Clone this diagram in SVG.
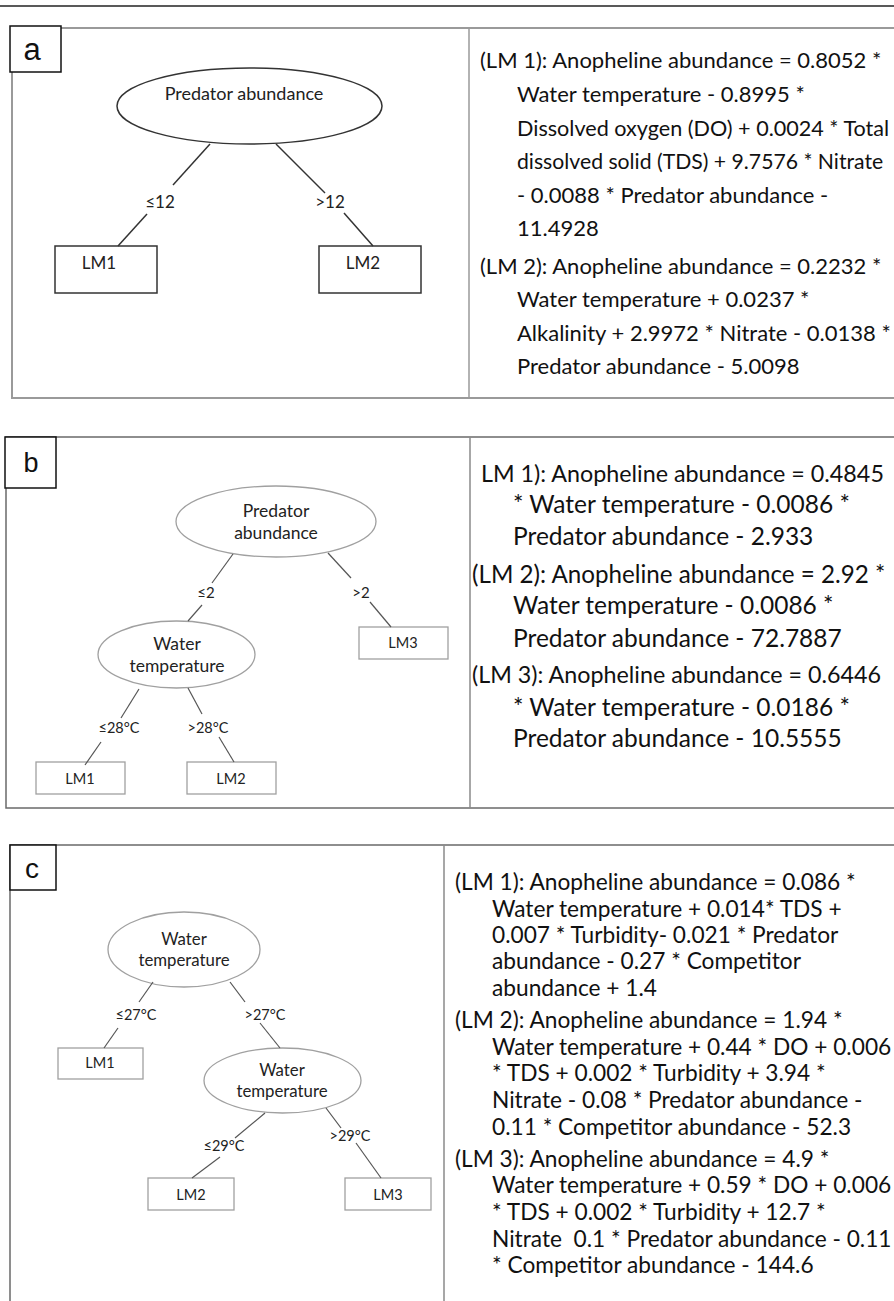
<svg xmlns="http://www.w3.org/2000/svg" width="894" height="1301" viewBox="0 0 894 1301">
<style>
  .bg{fill:#ffffff}
  .panel{fill:none;stroke:#9a9a9a;stroke-width:2}
  .panelb{fill:none;stroke:#6a6a6a;stroke-width:1.5}
  .tag{fill:#ffffff;stroke:#111;stroke-width:1.5}
  .tagt{font-family:"Liberation Sans",Arial,sans-serif;fill:#111;text-anchor:middle}
  .nodeA{fill:#fff;stroke:#333;stroke-width:1.5}
  .nodeB{fill:#fff;stroke:#a0a0a0;stroke-width:1.3}
  .edgeA{stroke:#333;stroke-width:1.5;fill:none}
  .edgeB{stroke:#555;stroke-width:1.2;fill:none}
  .tt{font-family:Lato,"Open Sans",sans-serif;fill:#222;text-anchor:middle}
  .eq{font-family:Lato,"Open Sans",sans-serif;fill:#111}
</style>
<rect class="bg" x="0" y="0" width="894" height="1301"/>
<line x1="0" y1="6" x2="894" y2="6" stroke="#222" stroke-width="1.5"/>

<!-- Panel a -->
<g id="panel-a">
  <rect class="panel" x="12" y="28" width="900" height="370"/>
  <line x1="469" y1="28" x2="469" y2="398" stroke="#9a9a9a" stroke-width="1.5"/>
  <rect class="tag" x="10" y="26" width="51" height="46"/>
  <text class="tagt" x="32" y="60" font-size="31">a</text>
</g>
<g id="a-root">
  <ellipse class="nodeA" cx="249.5" cy="106" rx="132.5" ry="38"/>
  <text class="tt" x="244" y="100" font-size="18">Predator abundance</text>
</g>
<g id="a-lm1">
  <rect class="nodeA" x="55" y="246" width="102" height="47"/>
  <text class="tt" x="99" y="269" font-size="17">LM1</text>
</g>
<g id="a-lm2">
  <rect class="nodeA" x="319" y="246" width="102" height="47"/>
  <text class="tt" x="363" y="269" font-size="17">LM2</text>
</g>
<g id="a-connectors">
  <line class="edgeA" x1="210" y1="144" x2="173" y2="185"/>
  <line class="edgeA" x1="147" y1="214" x2="118" y2="246"/>
  <line class="edgeA" x1="276" y1="144" x2="325" y2="193"/>
  <line class="edgeA" x1="344" y1="213" x2="373" y2="246"/>
  <text class="tt" x="160" y="208" font-size="17">≤12</text>
  <text class="tt" x="330" y="208" font-size="17">&gt;12</text>
</g>
<g id="a-equations" class="eq" font-size="22">
  <text x="480" y="68">(LM 1): Anopheline abundance = 0.8052 *</text>
  <text x="517" y="102">Water temperature - 0.8995 *</text>
  <text x="517" y="136" font-size="21.6">Dissolved oxygen (DO) + 0.0024 * Total</text>
  <text x="517" y="169" font-size="21.2">dissolved solid (TDS) + 9.7576 * Nitrate</text>
  <text x="517" y="203">- 0.0088 * Predator abundance -</text>
  <text x="517" y="236">11.4928</text>
  <text x="480" y="274">(LM 2): Anopheline abundance = 0.2232 *</text>
  <text x="517" y="307">Water temperature + 0.0237 *</text>
  <text x="517" y="341">Alkalinity + 2.9972 * Nitrate - 0.0138 *</text>
  <text x="517" y="374">Predator abundance - 5.0098</text>
</g>

<!-- Panel b -->
<g id="panel-b">
  <rect class="panelb" x="6" y="437" width="900" height="371"/>
  <line x1="470" y1="437" x2="470" y2="808" stroke="#8a8a8a" stroke-width="1.5"/>
  <rect class="tag" x="5" y="437" width="51" height="51"/>
  <text class="tagt" x="31" y="472" font-size="27">b</text>
</g>
<g id="b-root">
  <ellipse class="nodeB" cx="276" cy="521.5" rx="100" ry="35.5"/>
  <text class="tt" x="276" y="517" font-size="17.5">Predator</text>
  <text class="tt" x="276" y="539" font-size="17.5">abundance</text>
</g>
<g id="b-water">
  <ellipse class="nodeB" cx="176.5" cy="654.5" rx="78.5" ry="33.5"/>
  <text class="tt" x="177" y="650" font-size="17.5">Water</text>
  <text class="tt" x="177" y="672" font-size="17.5">temperature</text>
</g>
<g id="b-lm3">
  <rect class="nodeB" x="359" y="627" width="89" height="32"/>
  <text class="tt" x="403" y="648" font-size="14.5">LM3</text>
</g>
<g id="b-lm1">
  <rect class="nodeB" x="36" y="762" width="89" height="32"/>
  <text class="tt" x="80" y="784" font-size="14.5">LM1</text>
</g>
<g id="b-lm2">
  <rect class="nodeB" x="187" y="762" width="89" height="32"/>
  <text class="tt" x="231" y="784" font-size="14.5">LM2</text>
</g>
<g id="b-connectors">
  <line class="edgeB" x1="233" y1="554" x2="212" y2="583"/>
  <line class="edgeB" x1="202" y1="605" x2="188" y2="621"/>
  <line class="edgeB" x1="328" y1="553" x2="351" y2="578"/>
  <line class="edgeB" x1="370" y1="602" x2="391" y2="627"/>
  <line class="edgeB" x1="139" y1="689" x2="121" y2="718"/>
  <line class="edgeB" x1="101" y1="742" x2="85" y2="765"/>
  <line class="edgeB" x1="188" y1="688" x2="202" y2="714"/>
  <line class="edgeB" x1="219" y1="737" x2="234" y2="762"/>
  <text class="tt" x="206" y="598" font-size="15">≤2</text>
  <text class="tt" x="361" y="598" font-size="15">&gt;2</text>
  <text class="tt" x="119" y="733" font-size="14.5">≤28°C</text>
  <text class="tt" x="208" y="733" font-size="14.5">&gt;28°C</text>
</g>
<g id="b-equations" class="eq" font-size="24.5">
  <text x="481" y="482" font-size="23.3">LM 1): Anopheline abundance = 0.4845</text>
  <text x="513" y="513">* Water temperature - 0.0086 *</text>
  <text x="513" y="545">Predator abundance - 2.933</text>
  <text x="472" y="583" font-size="24.2">(LM 2): Anopheline abundance = 2.92 *</text>
  <text x="513" y="614">Water temperature - 0.0086 *</text>
  <text x="513" y="647">Predator abundance - 72.7887</text>
  <text x="472" y="683" font-size="23.3">(LM 3): Anopheline abundance = 0.6446</text>
  <text x="513" y="716">* Water temperature - 0.0186 *</text>
  <text x="513" y="747">Predator abundance - 10.5555</text>
</g>

<!-- Panel c -->
<g id="panel-c">
  <rect class="panelb" x="10" y="845" width="900" height="470"/>
  <line x1="444" y1="845" x2="444" y2="1301" stroke="#8a8a8a" stroke-width="1.5"/>
  <rect class="tag" x="10" y="845" width="46" height="45"/>
  <text class="tagt" x="32" y="878" font-size="28">c</text>
</g>
<g id="c-root">
  <ellipse class="nodeB" cx="184" cy="949.5" rx="76" ry="37.5"/>
  <text class="tt" x="184" y="945" font-size="16.8">Water</text>
  <text class="tt" x="184" y="966" font-size="16.8">temperature</text>
</g>
<g id="c-water2">
  <ellipse class="nodeB" cx="282.5" cy="1080.5" rx="78.5" ry="32.5"/>
  <text class="tt" x="282" y="1076" font-size="16.8">Water</text>
  <text class="tt" x="282" y="1097" font-size="16.8">temperature</text>
</g>
<g id="c-lm1">
  <rect class="nodeB" x="58" y="1048" width="85" height="31"/>
  <text class="tt" x="100" y="1068" font-size="14.5">LM1</text>
</g>
<g id="c-lm2">
  <rect class="nodeB" x="148" y="1178" width="86" height="32"/>
  <text class="tt" x="191" y="1200" font-size="14.5">LM2</text>
</g>
<g id="c-lm3">
  <rect class="nodeB" x="345" y="1178" width="86" height="32"/>
  <text class="tt" x="388" y="1200" font-size="14.5">LM3</text>
</g>
<g id="c-connectors">
  <line class="edgeB" x1="153" y1="982" x2="139" y2="1002"/>
  <line class="edgeB" x1="118" y1="1028" x2="104" y2="1048"/>
  <line class="edgeB" x1="230" y1="982" x2="245" y2="1002"/>
  <line class="edgeB" x1="260" y1="1023" x2="280" y2="1048"/>
  <line class="edgeB" x1="265" y1="1113" x2="235" y2="1138"/>
  <line class="edgeB" x1="220" y1="1157" x2="192" y2="1178"/>
  <line class="edgeB" x1="326" y1="1108" x2="341" y2="1128"/>
  <line class="edgeB" x1="356" y1="1143" x2="381" y2="1178"/>
  <text class="tt" x="136" y="1020" font-size="14.5">≤27°C</text>
  <text class="tt" x="265" y="1020" font-size="14.5">&gt;27°C</text>
  <text class="tt" x="224" y="1151" font-size="14.5">≤29°C</text>
  <text class="tt" x="350" y="1141" font-size="14.5">&gt;29°C</text>
</g>
<g id="c-equations" class="eq" font-size="22.7">
  <text x="455" y="890">(LM 1): Anopheline abundance = 0.086 *</text>
  <text x="492" y="917">Water temperature + 0.014* TDS +</text>
  <text x="492" y="943">0.007 * Turbidity- 0.021 * Predator</text>
  <text x="492" y="969">abundance - 0.27 * Competitor</text>
  <text x="492" y="996">abundance + 1.4</text>
  <text x="455" y="1028">(LM 2): Anopheline abundance = 1.94 *</text>
  <text x="492" y="1055">Water temperature + 0.44 * DO + 0.006</text>
  <text x="492" y="1081">* TDS + 0.002 * Turbidity + 3.94 *</text>
  <text x="492" y="1108">Nitrate - 0.08 * Predator abundance -</text>
  <text x="492" y="1135">0.11 * Competitor abundance - 52.3</text>
  <text x="455" y="1167">(LM 3): Anopheline abundance = 4.9 *</text>
  <text x="492" y="1193">Water temperature + 0.59 * DO + 0.006</text>
  <text x="492" y="1220">* TDS + 0.002 * Turbidity + 12.7 *</text>
  <text x="492" y="1247" xml:space="preserve">Nitrate  0.1 * Predator abundance - 0.11</text>
  <text x="492" y="1273">* Competitor abundance - 144.6</text>
</g>
</svg>
